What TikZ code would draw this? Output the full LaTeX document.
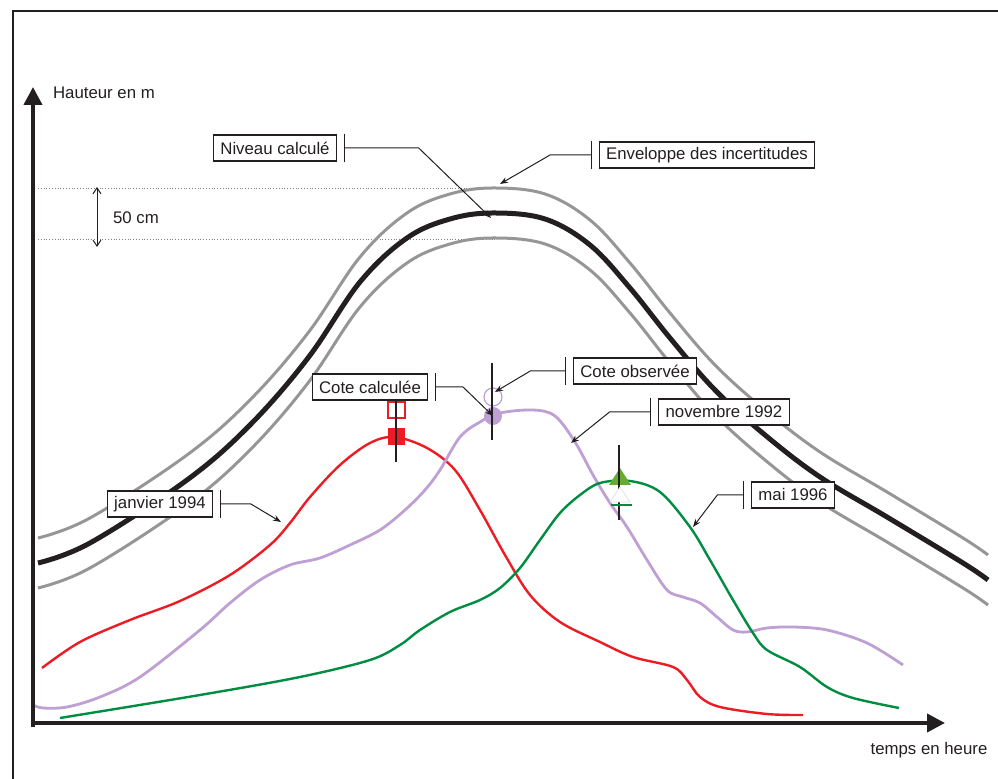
\documentclass[tikz,border=0pt]{standalone}
\usepackage{fontspec}
\setmainfont{Liberation Sans}
\usetikzlibrary{arrows.meta,positioning}

\definecolor{encre}{RGB}{35,31,32}
\definecolor{gristrait}{RGB}{150,150,150}
\definecolor{rouge}{RGB}{237,28,36}
\definecolor{lavande}{RGB}{190,160,212}
\definecolor{vert}{RGB}{0,140,65}
\definecolor{vertclair}{RGB}{105,170,55}

\begin{document}
\begin{tikzpicture}[x=0.5pt,y=-0.5pt,font=\fontsize{8.4}{10}\selectfont,text=encre]
% styles
\tikzstyle{etiq} = [draw=encre, line width=0.6pt, fill=white, inner xsep=3.5pt, inner ysep=0pt, minimum height=13pt]
\tikzstyle{barre} = [encre, line width=0.5pt]
\tikzstyle{renvoi} = [encre, line width=0.5pt, -{Stealth[length=4pt,width=3pt]}]
\tikzstyle{axe} = [encre, line width=2pt, -{Triangle[length=9pt,width=9pt]}]
\tikzstyle{pointille} = [gray, line width=0.4pt, densely dotted]
\tikzstyle{enveloppe} = [gristrait, line width=1.5pt]
\tikzstyle{niveau} = [encre, line width=2.5pt]
\tikzstyle{crue} = [line width=1.2pt]
\tikzstyle{repere} = [encre, line width=0.6pt]

\useasboundingbox (0,0) rectangle (998,779);

% cadre
\draw[encre, line width=1.3pt] (998,11) -- (13,11) -- (13,779);

% ecart de 50 cm
\draw[pointille] (38,188) -- (487,188);
\draw[pointille] (38,239) -- (497,239);
\draw[encre, line width=0.5pt, {Straight Barb[length=3pt,width=4pt]}-{Straight Barb[length=3pt,width=4pt]}] (97,187) -- (97,247);
\node (ecart) at (106,218) [anchor=west] {50 cm};

% niveau calcule et enveloppe
\foreach \dy/\sty in {12.5/enveloppe,-12.5/enveloppe,0/niveau}
  \draw[\sty, yshift=\dy pt] plot[smooth, tension=0.6] coordinates {(38,563) (90,543) (187,480) (250,425) (308,358) (360,282) (407,238) (450,219) (493,213) (545,219) (590,245) (630,288) (670,338) (715,390) (765,435) (820,477) (887,517) (963,563) (988,580)};

% crues
\draw[crue, rouge] plot[smooth, tension=0.55] coordinates {(42,668) (80,642) (130,620) (180,601) (230,575) (270,545) (290,523) (310,497) (340,465) (370,443) (395,437) (427,448) (455,470) (480,510) (505,555) (530,595) (560,622) (600,642) (633,657) (673,667) (687,680) (700,697) (720,707) (767,714) (803,715)};
\draw[crue, lavande, line width=1.4pt] plot[smooth, tension=0.55] coordinates {(33,705) (43,708) (67,707) (100,697) (140,677) (200,630) (230,603) (260,580) (290,565) (320,558) (350,545) (380,530) (405,510) (425,490) (440,470) (460,437) (480,422) (500,413) (533,410) (555,416) (575,442) (593,475) (610,503) (627,527) (647,560) (667,590) (683,597) (700,603) (717,617) (733,630) (747,632) (767,628) (793,627) (827,630) (867,643) (903,665)};
\draw[crue, vert] plot[smooth, tension=0.55] coordinates {(60,718) (200,695) (300,677) (370,660) (400,645) (420,630) (450,612) (480,600) (500,588) (520,568) (540,540) (560,513) (580,495) (600,483) (630,481) (660,492) (690,527) (710,560) (733,600) (753,633) (767,650) (800,667) (827,687) (853,698) (899,708)};

% cotes
\fill[rouge] (388,428) rectangle (405,445);
\draw[rouge, line width=0.6pt] (388,402) rectangle (405,418);
\draw[repere] (396,400) -- (396,462);
\fill[lavande] (493,416) circle (4.5pt);
\draw[lavande, line width=0.6pt] (493,397) circle (4.5pt);
\draw[repere] (492,363) -- (492,440);
\fill[vertclair] (620,468) -- (631,485) -- (609,485) -- cycle;
\draw[repere] (619,445) -- (619,520);
\draw[gray!25, fill=white, line width=0.3pt] (620,487) -- (630,502) -- (610,502) -- cycle;
\draw[vert, line width=0.8pt] (611,505) -- (632,505);

% axes
\coordinate (origine) at (33,727);
\coordinate (haut) at (33,87);
\coordinate (gauche) at (31,723);
\coordinate (droite) at (945,723);
\draw[axe] (origine) -- (haut);
\draw[axe] (gauche) -- (droite);
\node (hauteur) at (46,93) [anchor=west] {Hauteur en m};
\node (temps) at (929,750) {temps en heure};

% etiquettes
\node[etiq] (nv) at (275,148) {Niveau calcul\'e};
\node[etiq] (env) at (707,155) {Enveloppe des incertitudes};
\node[etiq] (cc) at (370,387) {Cote calcul\'ee};
\node[etiq] (co) at (635,371) {Cote observ\'ee};
\node[etiq] (nov) at (724,412) {novembre 1992};
\node[etiq] (mai) at (793,495) {mai 1996};
\node[etiq] (jan) at (160,504) {janvier 1994};

\coordinate (nv-pt) at (491,218);
\coordinate (env-pt) at (500,184);
\coordinate (cc-pt) at (493,416);
\coordinate (co-pt) at (495,392);
\coordinate (nov-pt) at (571,443);
\coordinate (mai-pt) at (693,527);
\coordinate (jan-pt) at (281,522);

% renvois a droite des etiquettes
\draw[barre] ([xshift=3.75pt]nv.north east) -- ([xshift=3.75pt]nv.south east);
\draw[renvoi] ([xshift=3.75pt]nv.east) -- ++(74,0) -- (nv-pt);
\draw[barre] ([xshift=3.75pt]cc.north east) -- ([xshift=3.75pt]cc.south east);
\draw[renvoi] ([xshift=3.75pt]cc.east) -- ++(27,0) -- (cc-pt);
\draw[barre] ([xshift=3.75pt]jan.north east) -- ([xshift=3.75pt]jan.south east);
\draw[renvoi] ([xshift=3.75pt]jan.east) -- ++(30,0) -- (jan-pt);

% renvois a gauche des etiquettes
\draw[barre] ([xshift=-3.75pt]env.north west) -- ([xshift=-3.75pt]env.south west);
\draw[renvoi] ([xshift=-3.75pt]env.west) -- ++(-41,0) -- (env-pt);
\draw[barre] ([xshift=-3.75pt]co.north west) -- ([xshift=-3.75pt]co.south west);
\draw[renvoi] ([xshift=-3.75pt]co.west) -- ++(-35,0) -- (co-pt);
\draw[barre] ([xshift=-3.75pt]nov.north west) -- ([xshift=-3.75pt]nov.south west);
\draw[renvoi] ([xshift=-3.75pt]nov.west) -- ++(-41,0) -- (nov-pt);
\draw[barre] ([xshift=-3.75pt]mai.north west) -- ([xshift=-3.75pt]mai.south west);
\draw[renvoi] ([xshift=-3.75pt]mai.west) -- ++(-26,0) -- (mai-pt);
\end{tikzpicture}
\end{document}
